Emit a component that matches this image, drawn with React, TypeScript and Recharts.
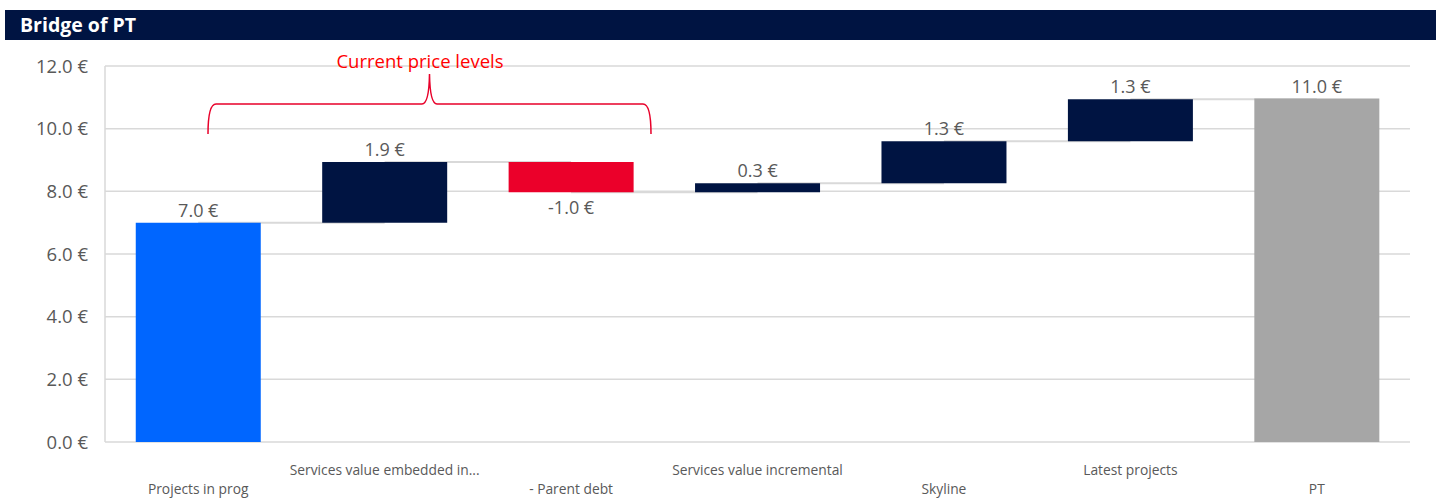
import React from "react";
import {
  ComposedChart,
  Bar,
  XAxis,
  YAxis,
  CartesianGrid,
  Cell,
  LabelList,
  ReferenceLine,
} from "recharts";

const categories = [
  "Projects in prog",
  "Services value embedded in...",
  "- Parent debt",
  "Services value incremental",
  "Skyline",
  "Latest projects",
  "PT",
];
const deltas = [7.0, 1.94, -0.97, 0.29, 1.34, 1.34, 10.96];
const kinds = ["total", "step", "step", "step", "step", "step", "total"];
const barColors = ["#0066FF", "#001442", "#EB002A", "#001442", "#001442", "#001442", "#A6A6A6"];
const yTicks = [0, 2, 4, 6, 8, 10, 12];

const FONT = "'Open Sans', sans-serif";
const GREY_TEXT = "#595959";
const GRID = "#D9D9D9";

type Row = { name: string; base: number; size: number; delta: number; end: number };

const rows: Row[] = (() => {
  let cum = 0;
  return categories.map((name, i) => {
    const d = deltas[i];
    if (kinds[i] === "total") {
      cum = d;
      return { name, base: 0, size: d, delta: d, end: d };
    }
    const start = cum;
    cum = start + d;
    return { name, base: Math.min(start, cum), size: Math.abs(d), delta: d, end: cum };
  });
})();

const XTick = (props: any) => {
  const { x, y, payload, index } = props;
  const lower = index % 2 === 0;
  return (
    <text
      x={x}
      y={y + (lower ? 43.5 : 25)}
      textAnchor="middle"
      fontFamily={FONT}
      fontSize={13.8}
      fill={GREY_TEXT}
    >
      {payload.value}
    </text>
  );
};

const BarLabel = (props: any) => {
  const { x, y, width, height, index } = props;
  const d = rows[index].delta;
  const neg = d < 0;
  const text = d.toFixed(1) + " €";
  return (
    <text
      x={x + width / 2}
      y={neg ? y + height + 22 : y - 6}
      textAnchor="middle"
      fontFamily={FONT}
      fontSize={18}
      fill={GREY_TEXT}
    >
      {text}
    </text>
  );
};

export default function App() {
  return (
    <div style={{ position: "absolute", left: 0, top: 0, width: 1441, height: 498, background: "#fff" }}>
      <div
        style={{
          position: "absolute",
          left: 5,
          top: 10,
          width: 1431,
          height: 30,
          background: "#001442",
          color: "#fff",
          fontFamily: FONT,
          fontWeight: 700,
          fontSize: 19.5,
          lineHeight: "30px",
          paddingLeft: 15,
          boxSizing: "border-box",
        }}
      >
        Bridge of PT
      </div>
      <div style={{ position: "absolute", left: 0, top: 0 }}>
        <ComposedChart
          width={1441}
          height={498}
          data={rows}
          margin={{ top: 66, right: 31, bottom: 0, left: 0 }}
          barCategoryGap="16.5%"
        >
          <CartesianGrid vertical={false} stroke={GRID} strokeWidth={1.5} />
          <YAxis
            width={105}
            domain={[0, 12]}
            ticks={yTicks}
            interval={0}
            tickFormatter={(v: number) => v.toFixed(1) + " €"}
            axisLine={{ stroke: GRID, strokeWidth: 1.5 }}
            tickLine={false}
            tickSize={0}
            tickMargin={17}
            tick={{ fontFamily: FONT, fontSize: 18.5, fill: GREY_TEXT }}
          />
          <XAxis
            dataKey="name"
            height={56}
            interval={0}
            axisLine={false}
            tickLine={false}
            tick={<XTick />}
          />
          {rows.slice(0, -1).map((r, i) => (
            <ReferenceLine
              key={"c" + i}
              segment={[
                { x: rows[i].name, y: r.end },
                { x: rows[i + 1].name, y: r.end },
              ]}
              stroke={GRID}
              strokeWidth={2}
              zIndex={50}
            />
          ))}
          <Bar dataKey="base" stackId="w" fill="transparent" isAnimationActive={false} />
          <Bar dataKey="size" stackId="w" isAnimationActive={false}>
            {rows.map((r, i) => (
              <Cell key={i} fill={barColors[i]} />
            ))}
            <LabelList dataKey="size" content={<BarLabel />} />
          </Bar>
        </ComposedChart>
      </div>
      <svg
        width={1441}
        height={498}
        style={{ position: "absolute", left: 0, top: 0, pointerEvents: "none" }}
      >
        <path
          d="M 208 134 Q 208 104 216 104 L 422 104 Q 429 104 429.5 74 Q 430 104 437 104 L 643 104 Q 651 104 651 134"
          fill="none"
          stroke="#E8002A"
          strokeWidth={1.5}
        />
        <text x={420} y={68} textAnchor="middle" fontFamily={FONT} fontSize={18.5} fill="#FF0000">
          Current price levels
        </text>
      </svg>
    </div>
  );
}
